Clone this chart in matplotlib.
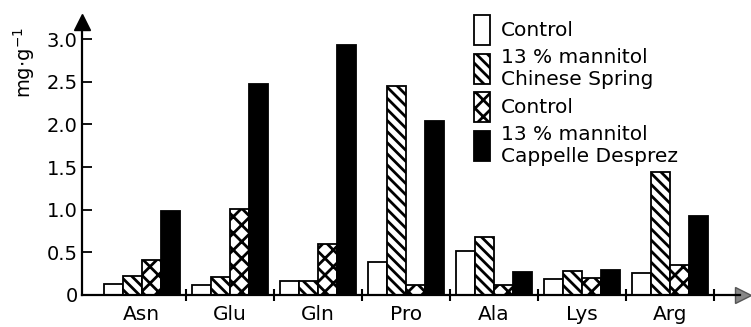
import matplotlib
matplotlib.use('Agg')
import matplotlib.pyplot as plt
import numpy as np

plt.rcParams['font.family'] = ['DejaVu Sans']
plt.rcParams['hatch.linewidth'] = 2.0

amino = ['Asn', 'Glu', 'Gln', 'Pro', 'Ala', 'Lys', 'Arg']

cs_control = [0.13, 0.12, 0.16, 0.39, 0.52, 0.19, 0.26]
cs_mannitol = [0.22, 0.21, 0.16, 2.45, 0.68, 0.28, 1.44]
cd_control = [0.41, 1.01, 0.60, 0.12, 0.12, 0.20, 0.35]
cd_mannitol = [0.98, 2.47, 2.93, 2.04, 0.27, 0.29, 0.93]

labels = ['Control', '13 % mannitol\nChinese Spring',
          'Control', '13 % mannitol\nCappelle Desprez']

yticks = [0, 0.5, 1.0, 1.5, 2.0, 2.5, 3.0]
ytick_labels = ['0', '0.5', '1.0', '1.5', '2.0', '2.5', '3.0']

W, H = 751, 327
fig = plt.figure(figsize=(W / 100, H / 100), dpi=100)
ax = fig.add_axes([82 / W, 32 / H, 658 / W, 273 / H])

x = np.arange(len(amino))
w = 0.215
series = [cs_control, cs_mannitol, cd_control, cd_mannitol]
faces = ['white', 'white', 'white', 'black']
hatches = [None, '\\\\\\', 'xx', None]
for k, (vals, fc, h, lab) in enumerate(zip(series, faces, hatches, labels)):
    ax.bar(x + (k - 1.5) * w, vals, w, color=fc, edgecolor='black',
           hatch=h, linewidth=1.3, label=lab)

ax.set_xlim(-0.68, 6.795)
ax.set_ylim(0, 3.2)

ax.spines['top'].set_visible(False)
ax.spines['right'].set_visible(False)
ax.spines['left'].set_linewidth(1.6)
ax.spines['bottom'].set_linewidth(1.6)

ax.set_yticks(yticks)
ax.set_yticklabels(ytick_labels, fontsize=14)
ax.tick_params(axis='y', direction='in', length=7, width=1.3, pad=3)

ax.set_xticks(x)
ax.set_xticklabels(amino, fontsize=14.5)
ax.tick_params(axis='x', which='major', length=0, pad=7)
ax.set_xticks(x + 0.5, minor=True)
ax.tick_params(axis='x', which='minor', direction='inout', length=9, width=1.5)

ax.set_ylabel('mg$\\cdot$g$^{-1}$', fontsize=14, labelpad=4)
ax.yaxis.set_label_coords(-0.068, 0.85)

# axis arrows
ax.plot([0], [1.0], marker='^', markersize=11, color='black',
        transform=ax.transAxes, clip_on=False)
ax.plot([1.005], [0], marker='>', markersize=11, color='#888888',
        markeredgecolor='#555555', transform=ax.transAxes, clip_on=False)

ax.legend(loc='upper left', bbox_to_anchor=(474 / W, 1 - 15 / H),
          bbox_transform=fig.transFigure, frameon=False, fontsize=14.5,
          handlelength=0.8, handleheight=1.9, handletextpad=0.55,
          labelspacing=0.15, borderpad=0, borderaxespad=0)

fig.savefig('out.png', dpi=100)
